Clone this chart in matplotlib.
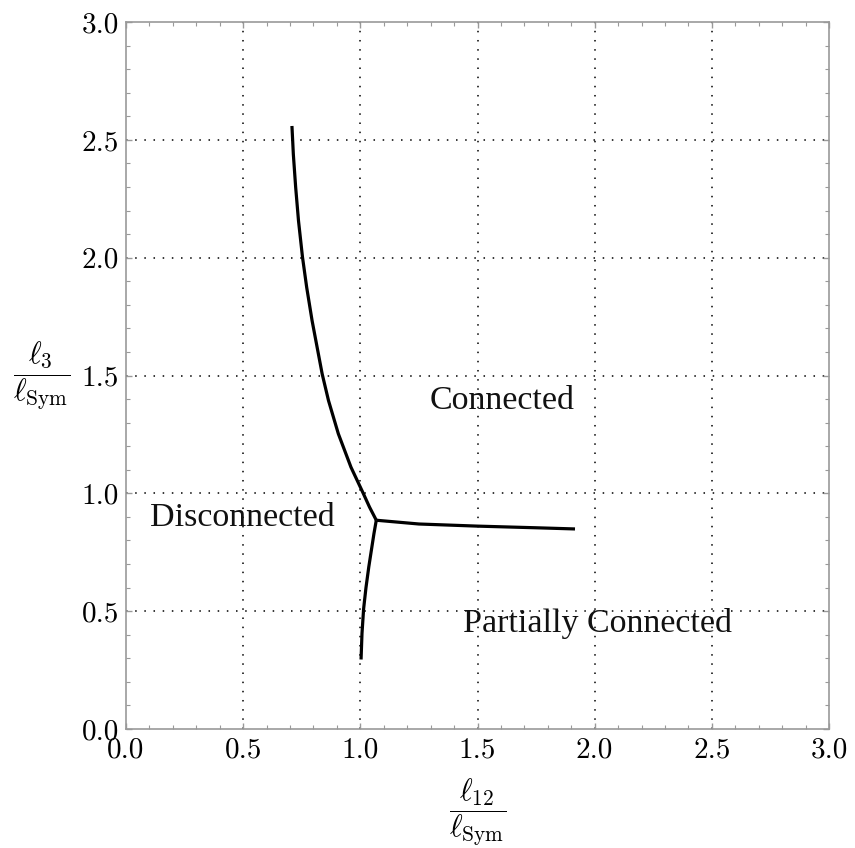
import matplotlib
matplotlib.use('Agg')
import matplotlib.pyplot as plt
from matplotlib.ticker import MultipleLocator

plt.rcParams['mathtext.fontset'] = 'cm'

# phase boundaries (x = l12/lSym, y = l3/lSym)
upper_x = [0.708, 0.711, 0.714, 0.724, 0.736, 0.753, 0.771, 0.794,
           0.837, 0.864, 0.906, 0.960, 1.011, 1.039, 1.068]
upper_y = [2.559, 2.500, 2.439, 2.298, 2.157, 2.003, 1.874, 1.733,
           1.507, 1.394, 1.253, 1.111, 1.003, 0.942, 0.886]

lower_x = [1.068, 1.058, 1.036, 1.024, 1.014, 1.007, 1.003]
lower_y = [0.886, 0.829, 0.688, 0.600, 0.511, 0.406, 0.295]

right_x = [1.068, 1.250, 1.500, 1.750, 1.916]
right_y = [0.886, 0.870, 0.861, 0.854, 0.849]

regions = ['Connected', 'Disconnected', 'Partially Connected']
region_x = [1.605, 0.495, 2.01]
region_y = [1.394, 0.898, 0.449]

fig = plt.figure(figsize=(8.55, 8.48), dpi=100)
ax = fig.add_axes([0.1474, 0.1403, 0.8222, 0.8337])

for xs, ys in [(upper_x, upper_y), (lower_x, lower_y), (right_x, right_y)]:
    ax.plot(xs, ys, color='black', linewidth=2.3, solid_capstyle='butt',
            solid_joinstyle='round')

for name, tx, ty in zip(regions, region_x, region_y):
    ax.text(tx, ty, name, ha='center', va='center', fontsize=24.5,
            family='Liberation Serif', color='#111111')

ax.set_xlim(0, 3)
ax.set_ylim(0, 3)

for g in [0.5, 1.0, 1.5, 2.0, 2.5]:
    ax.axvline(g, color='black', linewidth=1.1, linestyle=(0, (1, 5)), zorder=0)
    ax.axhline(g, color='black', linewidth=1.1, linestyle=(0, (1, 5)), zorder=0)

ax.xaxis.set_major_locator(MultipleLocator(0.5))
ax.yaxis.set_major_locator(MultipleLocator(0.5))
ax.xaxis.set_minor_locator(MultipleLocator(0.1))
ax.yaxis.set_minor_locator(MultipleLocator(0.1))
ax.xaxis.set_major_formatter(plt.FuncFormatter(lambda v, p: f'{v:.1f}'))
ax.yaxis.set_major_formatter(plt.FuncFormatter(lambda v, p: f'{v:.1f}'))

ax.tick_params(which='both', direction='in', top=True, right=True, color='#999999')
ax.tick_params(which='major', length=4, width=1)
ax.tick_params(which='minor', length=3, width=0.8)
ax.tick_params(axis='x', which='major', pad=6)
ax.tick_params(axis='y', which='major', pad=5)
for lab in ax.get_xticklabels() + ax.get_yticklabels():
    lab.set_fontfamily('cmr10')
    lab.set_fontsize(21)

for sp in ax.spines.values():
    sp.set_color('#999999')
    sp.set_linewidth(1.2)

ax.set_xlabel(r'$\dfrac{\ell_{12}}{\ell_{\mathrm{Sym}}}$', fontsize=22, labelpad=9)
ax.set_ylabel(r'$\dfrac{\ell_{3}}{\ell_{\mathrm{Sym}}}$', fontsize=22, rotation=0,
              labelpad=30, va='center')
ax.yaxis.set_label_coords(-0.12, 0.5)

fig.savefig('out.png', dpi=100)
